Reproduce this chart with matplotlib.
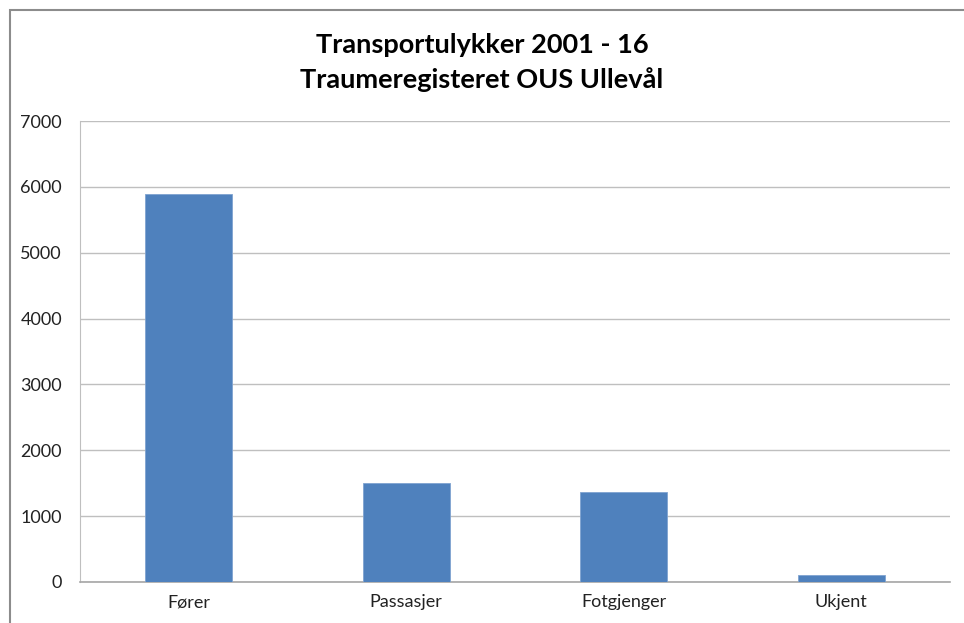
import matplotlib.pyplot as plt
from matplotlib.patches import Rectangle

# data
categories = ["Fører", "Passasjer", "Fotgjenger", "Ukjent"]
values = [5890, 1510, 1360, 100]
yticks = [0, 1000, 2000, 3000, 4000, 5000, 6000, 7000]

plt.rcParams['font.family'] = ['Lato', 'DejaVu Sans']

W, H = 964, 623
fig = plt.figure(figsize=(W / 100, H / 100), dpi=100)

# outer chart frame (cropped at right and bottom)
fig.patches.append(Rectangle((10 / W, -0.05), 1.1, (H - 10) / H + 0.05,
                             transform=fig.transFigure, fill=False,
                             edgecolor="#8c8c8c", linewidth=1.5))

ax = fig.add_axes([80 / W, 1 - 582 / H, 870 / W, 461 / H])
ax.bar(range(len(categories)), values, width=0.4, color="#4f81bd",
       edgecolor="#7fa3d0", linewidth=0.6, zorder=3)

ax.set_xlim(-0.5, len(categories) - 0.5)
ax.set_ylim(0, 7000)
ax.set_yticks(yticks)
ax.set_yticklabels([str(v) for v in yticks])
ax.set_xticks(range(len(categories)))
ax.set_xticklabels(categories)
ax.tick_params(axis="both", length=0, labelsize=13, colors="#222222")
ax.tick_params(axis="y", pad=13)
ax.tick_params(axis="x", pad=9)

ax.grid(axis="y", color="#bfbfbf", linewidth=1, zorder=0)
for s in ["top", "right"]:
    ax.spines[s].set_visible(False)
ax.spines["left"].set_color("#bfbfbf")
ax.spines["bottom"].set_color("#a6a6a6")
ax.spines["bottom"].set_linewidth(1.2)

fig.text(0.5, 1 - 45 / H, "Transportulykker 2001 - 16", ha="center",
         va="center", fontsize=19.5, fontweight="bold")
fig.text(0.5, 1 - 80 / H, "Traumeregisteret OUS Ullevål", ha="center",
         va="center", fontsize=19.5, fontweight="bold")

fig.savefig("out.png", dpi=100)
